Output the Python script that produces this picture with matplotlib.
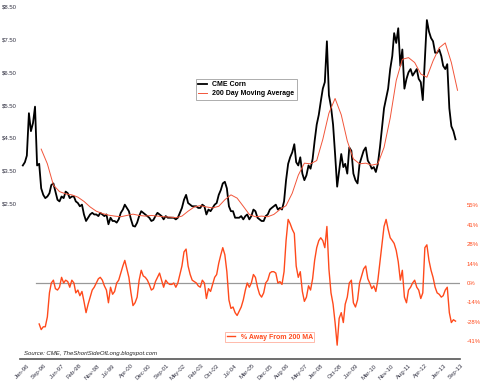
import matplotlib
matplotlib.use('Agg')
import matplotlib.pyplot as plt
import pandas as pd

plt.rcParams['font.family'] = ['Liberation Sans', 'DejaVu Sans']

# CME corn, monthly, Jan 1996 - Sep 2013 ($/bu)
price = [
    3.65, 3.75, 3.95, 5.25, 4.70, 4.95, 5.45, 3.65, 3.70, 2.95, 2.75, 2.65,  # 1996
    2.70, 2.80, 3.05, 3.10, 2.85, 2.60, 2.55, 2.70, 2.65, 2.85, 2.80, 2.65,  # 1997
    2.70, 2.70, 2.55, 2.50, 2.40, 2.45, 2.15, 1.95, 2.05, 2.15, 2.20, 2.15,  # 1998
    2.15, 2.10, 2.20, 2.15, 2.10, 2.15, 1.85, 2.05, 1.95, 1.95, 1.90, 2.00,  # 1999
    2.20, 2.30, 2.45, 2.35, 2.25, 2.00, 1.80, 1.78, 1.90, 2.10, 2.25, 2.20,  # 2000
    2.15, 2.10, 2.05, 1.95, 1.98, 2.10, 2.20, 2.15, 2.10, 2.00, 2.10, 2.05,  # 2001
    2.05, 2.05, 2.05, 2.00, 2.05, 2.20, 2.35, 2.60, 2.75, 2.50, 2.45, 2.40,  # 2002
    2.40, 2.40, 2.35, 2.35, 2.45, 2.40, 2.15, 2.30, 2.25, 2.35, 2.45, 2.50,  # 2003
    2.75, 2.90, 3.10, 3.15, 2.95, 2.40, 2.25, 2.25, 2.05, 2.05, 2.05, 2.10,  # 2004
    2.00, 2.10, 2.15, 2.00, 2.10, 2.30, 2.25, 2.05, 2.00, 1.95, 1.95, 2.10,  # 2005
    2.15, 2.30, 2.35, 2.40, 2.45, 2.30, 2.35, 2.30, 2.55, 3.20, 3.70, 3.90,  # 2006
    4.05, 4.30, 3.75, 3.65, 3.90, 3.40, 3.20, 3.35, 3.65, 3.55, 3.85, 4.40,  # 2007
    4.90, 5.20, 5.60, 6.00, 6.20, 7.45, 5.80, 5.45, 4.90, 4.00, 3.00, 3.50,  # 2008
    4.00, 3.60, 3.70, 3.40, 4.20, 4.10, 3.40, 3.20, 3.10, 3.70, 3.90, 4.10,  # 2009
    4.20, 3.80, 3.70, 3.55, 3.60, 3.45, 3.70, 4.20, 4.80, 5.40, 5.70, 6.00,  # 2010
    6.60, 7.00, 7.70, 7.40, 7.85, 6.70, 7.20, 6.00, 6.30, 6.50, 6.60, 6.40,  # 2011
    6.50, 6.60, 6.30, 6.20, 5.65, 6.90, 8.10, 7.75, 7.55, 7.45, 7.10, 7.10,  # 2012
    7.20, 7.00, 6.70, 6.60, 6.75, 5.40, 4.85, 4.70, 4.45,                    # 2013
]

# 200 day moving average, quarterly, Oct 1996 - Oct 2013
ma_200 = [
    4.15,
    3.70, 3.05, 2.85, 2.78,
    2.75, 2.68, 2.55, 2.38,
    2.25, 2.18, 2.13, 2.10,
    2.08, 2.12, 2.16, 2.12,
    2.10, 2.12, 2.10, 2.08,
    2.07, 2.05, 2.10, 2.25,
    2.38, 2.42, 2.38, 2.35,
    2.40, 2.60, 2.75, 2.65,
    2.40, 2.15, 2.08, 2.10,
    2.08, 2.15, 2.30, 2.42,
    2.80, 3.35, 3.72, 3.70,
    3.80, 4.45, 5.25, 5.70,
    5.20, 4.40, 3.85, 3.70,
    3.72, 3.66, 3.70, 4.20,
    5.10, 6.25, 6.90, 6.95,
    6.80, 6.45, 6.35, 6.85,
    7.25, 7.40, 6.80, 5.95,
]

# % away from 200 MA, monthly, Sep 1996 - Sep 2013
pct_away = [
    -29, -33, -31, -31,                                   # 1996
    -24, -7, 0, 2, -4, -5, -3, 4, 0, 2, 1, -3,            # 1997
    2, 0, -7, -5, -9, -6, -13, -21, -15, -10, -5, -3,     # 1998
    0, 3, 4, 2, -2, -5, -14, -3, -8, -6, 0, 2,            # 1999
    7, 12, 16, 10, 4, -7, -16, -14, -10, 2, 9, 5,         # 2000
    4, 2, -1, -5, -4, 1, 4, 7, 2, -3, 2, 0,               # 2001
    -1, -1, 0, -3, 0, 6, 12, 22, 24, 12, 6, 2,            # 2002
    1, 0, -2, -3, 2, 0, -11, -4, -6, -1, 4, 6,            # 2003
    14, 20, 25, 20, 8, -12, -18, -17, -21, -23, -20, -17, # 2004
    -12, -5, 0, -3, 0, 6, 4, -3, -8, -10, -7, 0,          # 2005
    2, 7, 8, 8, 7, 0, 1, -1, 8, 30, 45, 42,               # 2006
    38, 35, 12, 4, 8, -6, -13, -10, -2, -5, 3, 16,        # 2007
    25, 30, 32, 30, 25, 40, 10, -7, -15, -28, -44, -25,   # 2008
    -21, -28, -15, -10, 0, 2, -14, -17, -12, 0, 5, 10,    # 2009
    12, 3, 0, -4, -2, -6, 2, 15, 28, 40, 45, 38,          # 2010
    32, 30, 28, 23, 15, 2, 9, -10, -14, -5, -3, 0,        # 2011
    2, -3, -5, -11, -7, 25, 27, 16, 9, 4, -3, -7,         # 2012
    -8, -10, -9, -5, -3, -21, -28, -26, -27,              # 2013
]

tick_labels = ['Jan-96', 'Sep-96', 'Jun-97', 'Feb-98', 'Nov-98', 'Jul-99', 'Apr-00',
               'Dec-00', 'Sep-01', 'May-02', 'Feb-03', 'Oct-03', 'Jul-04', 'Mar-05',
               'Dec-05', 'Aug-06', 'May-07', 'Jan-08', 'Oct-08', 'Jun-09', 'Mar-10',
               'Nov-10', 'Aug-11', 'Apr-12', 'Jan-13', 'Sep-13']
price_ticks = [2.5, 3.5, 4.5, 5.5, 6.5, 7.5, 8.5]
pct_ticks = [-41.25, -27.5, -13.75, 0, 13.75, 27.5, 41.25, 55]

price_dates = pd.date_range('1996-01-01', periods=len(price), freq='MS')
ma_dates = pd.date_range('1996-10-01', periods=len(ma_200), freq='3MS')
pct_dates = pd.date_range('1996-09-01', periods=len(pct_away), freq='MS')
tick_dates = pd.to_datetime(tick_labels, format='%b-%y')

red = '#FF4A1C'

fig = plt.figure(figsize=(4.8, 3.84), dpi=100)
ax = fig.add_axes([20/480, 25/384, 440/480, 359/384])
ax2 = ax.twinx()

ax.plot(price_dates, price, color='black', lw=1.3, label='CME Corn')
ax.plot(ma_dates, ma_200, color='#F2553A', lw=0.7, label='200 Day Moving Average')
ax.set_ylim(-2.274, 8.714)
ax.set_xlim(pd.Timestamp('1995-11-20'), pd.Timestamp('2013-11-07'))
ax.set_yticks(price_ticks)
ax.set_yticklabels(['$%.2f' % v for v in price_ticks])
ax.tick_params(axis='y', length=0, pad=2, labelsize=4.3, labelcolor='#333344')
ax.set_xticks(tick_dates)
ax.set_xticklabels(tick_labels, rotation=45, ha='center')
ax.tick_params(axis='x', length=0, pad=3, labelsize=4.3, labelcolor='#333344')
for s in ['top', 'left', 'right']:
    ax.spines[s].set_visible(False)
ax.spines['bottom'].set_color('#555555')
ax.spines['bottom'].set_linewidth(1.2)

ax2.axhline(0, xmin=0.036, color='#999999', lw=0.9)
ax2.plot(pct_dates, pct_away, color=red, lw=1.0, label='% Away From 200 MA')
ax2.set_ylim(-53.8, 200.3)
ax2.set_yticks(pct_ticks)
ax2.set_yticklabels(['%.0f%%' % v for v in pct_ticks])
ax2.tick_params(axis='y', length=0, pad=5, labelsize=4.3, labelcolor=red)
for s in ['top', 'left', 'right', 'bottom']:
    ax2.spines[s].set_visible(False)

leg1 = ax.legend(loc='upper left', bbox_to_anchor=(196/480, 1 - 79/384),
                 bbox_transform=fig.transFigure, fancybox=False, edgecolor='#888888',
                 prop={'weight': 'bold', 'size': 5}, handlelength=1.2,
                 borderpad=0.35, labelspacing=0.25, handletextpad=0.8, borderaxespad=0)
leg1.get_frame().set_linewidth(0.6)
leg2 = ax2.legend(loc='upper left', bbox_to_anchor=(225/480, 1 - 332/384),
                  bbox_transform=fig.transFigure, fancybox=False, edgecolor='#FF9C85',
                  prop={'weight': 'bold', 'size': 5}, labelcolor=red, handlelength=1.2,
                  borderpad=0.25, handletextpad=0.8, borderaxespad=0)
leg2.get_frame().set_linewidth(0.6)

fig.text(24/480, 1 - 353/384, 'Source: CME, TheShortSideOfLong.blogspot.com',
         style='italic', fontsize=4.3, va='center', color='#222222')

fig.savefig('out.png', dpi=100)
